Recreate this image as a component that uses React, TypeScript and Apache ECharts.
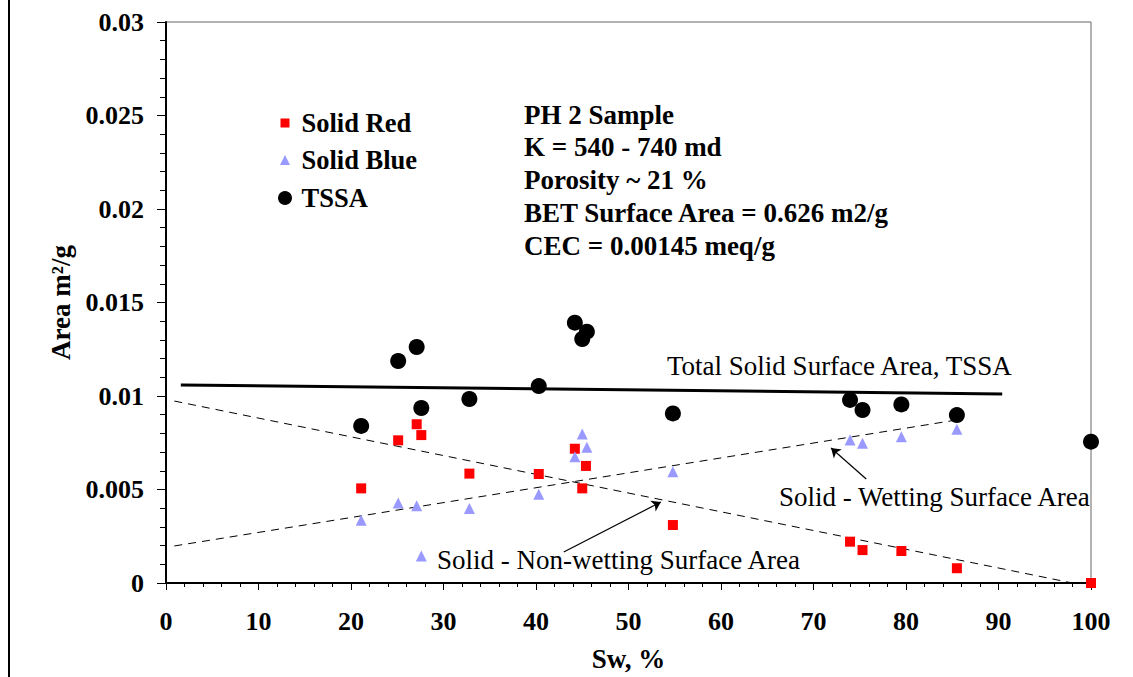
import React, { useEffect, useRef } from "react";
import * as echarts from "echarts";

// Water saturation (%) of each measurement
const swRed = [21.1, 25.1, 27.1, 27.6, 32.8, 40.3, 44.2, 45.0, 45.4, 54.8, 73.95, 75.3, 79.5, 85.5, 100];
const solidRed = [0.00506, 0.00763, 0.00849, 0.00791, 0.00585, 0.00583, 0.00718, 0.00506, 0.00626, 0.0031, 0.00221, 0.00176, 0.00171, 0.00079, 0];

const swBlue = [21.1, 25.1, 27.1, 27.6, 32.8, 40.3, 44.2, 45.0, 45.5, 54.8, 73.95, 75.3, 79.5, 85.5];
const solidBlue = [0.00335, 0.00428, 0.00413, 0.00144, 0.00399, 0.00474, 0.00675, 0.00797, 0.00726, 0.00595, 0.00765, 0.00747, 0.00782, 0.00822];

const swTssa = [21.1, 25.1, 27.1, 27.6, 32.8, 40.3, 44.2, 45.0, 45.5, 54.8, 73.95, 75.3, 79.5, 85.5, 100];
const tssa = [0.0084, 0.01187, 0.01262, 0.00936, 0.00984, 0.01053, 0.01392, 0.01305, 0.01344, 0.00907, 0.00979, 0.00925, 0.00955, 0.00898, 0.00756];

// Fitted trend lines: [Sw, area] end points
const tssaTrend = [[1.6, 0.01059], [90.4, 0.01011]];
const wettingTrend = [[0.9, 0.00198], [85.5, 0.00872]];
const nonWettingTrend = [[0.9, 0.00973], [98, 0]];

// Annotation arrows: [from, to] in Sw / area units
const wettingArrow = [[75.7, 0.00556], [71.9, 0.00722]];
const nonWettingArrow = [[43.0, 0.00166], [53.5, 0.00433]];

const infoLines = [
  "PH 2 Sample",
  "K = 540 - 740 md",
  "Porosity ~ 21 %",
  "BET Surface Area = 0.626 m2/g",
  "CEC = 0.00145 meq/g",
];

const serif = "'Liberation Serif', 'Times New Roman', serif";

const zip = (xs: number[], ys: number[]) => xs.map((x, i) => [x, ys[i]]);

// One legend block per series so each key symbol keeps its own size
const legendItem = (name: string, icon: string, size: number, centerY: number) => ({
  show: true,
  orient: "vertical",
  left: 285 - size / 2,
  top: centerY - 14,
  padding: 0,
  itemWidth: size,
  itemHeight: size,
  selectedMode: false,
  textStyle: {
    fontFamily: serif,
    fontWeight: "bold",
    fontSize: 26.5,
    color: "#000",
    lineHeight: 28,
    padding: [0, 0, 0, 11.5 - size / 2],
  },
  data: [{ name, icon }],
});

export default function App() {
  const ref = useRef<HTMLDivElement>(null);

  useEffect(() => {
    if (!ref.current) return;
    const chart = echarts.init(ref.current, null, { renderer: "svg" });

    const arrowLine = (pts: number[][]) => ({
      silent: true,
      symbol: ["none", "arrow"],
      symbolSize: 9,
      label: { show: false },
      lineStyle: { color: "#000", width: 1.2, type: "solid" },
      data: [[{ coord: pts[0] }, { coord: pts[1] }]],
    });

    chart.setOption({
      animation: false,
      backgroundColor: "#fff",
      textStyle: { fontFamily: serif },
      grid: {
        left: 166,
        right: 42,
        top: 22,
        bottom: 94,
        show: true,
        borderColor: "#666",
        borderWidth: 1,
      },
      xAxis: {
        type: "value",
        min: 0,
        max: 100,
        interval: 10,
        name: "Sw, %",
        nameLocation: "middle",
        nameGap: 62,
        nameTextStyle: { fontFamily: serif, fontWeight: "bold", fontSize: 27, color: "#000" },
        axisLine: { show: true, onZero: false, lineStyle: { color: "#000", width: 2 } },
        axisTick: { show: true, inside: false, length: 7, lineStyle: { color: "#000", width: 1 } },
        minorTick: { show: true, splitNumber: 5, length: 4, lineStyle: { color: "#000", width: 1 } },
        splitLine: { show: false },
        axisLabel: { fontFamily: serif, fontWeight: "bold", fontSize: 26, color: "#000", margin: 25 },
      },
      yAxis: {
        type: "value",
        min: 0,
        max: 0.03,
        interval: 0.005,
        name: "Area m²/g",
        nameLocation: "middle",
        nameGap: 92,
        nameTextStyle: { fontFamily: serif, fontWeight: "bold", fontSize: 27, color: "#000" },
        axisLine: { show: true, onZero: false, lineStyle: { color: "#000", width: 2 } },
        axisTick: { show: true, inside: false, length: 9, lineStyle: { color: "#000", width: 1 } },
        minorTick: { show: true, splitNumber: 5, length: 6, lineStyle: { color: "#000", width: 1 } },
        splitLine: { show: false },
        axisLabel: {
          fontFamily: serif,
          fontWeight: "bold",
          fontSize: 26,
          color: "#000",
          margin: 22,
          formatter: (v: number) => String(parseFloat(v.toFixed(3))),
        },
      },
      legend: [
        legendItem("Solid Red", "rect", 9, 123),
        legendItem("Solid Blue", "triangle", 10, 160),
        legendItem("TSSA", "circle", 14, 198),
      ],
      graphic: [
        {
          type: "line",
          shape: { x1: 9, y1: 0, x2: 9, y2: 677 },
          style: { stroke: "#000", lineWidth: 2 },
        },
        {
          type: "group",
          left: 524,
          top: 101,
          children: infoLines.map((t, i) => ({
            type: "text",
            x: 0,
            y: i * 32.8,
            style: { text: t, font: `bold 27px ${serif}`, fill: "#000" },
          })),
        },
        {
          type: "text",
          left: 667,
          top: 352,
          style: { text: "Total Solid Surface Area, TSSA", font: `27px ${serif}`, fill: "#000" },
        },
        {
          type: "text",
          left: 779,
          top: 483,
          style: { text: "Solid - Wetting Surface Area", font: `27px ${serif}`, fill: "#000" },
        },
        {
          type: "text",
          left: 437,
          top: 546,
          style: { text: "Solid - Non-wetting Surface Area", font: `27px ${serif}`, fill: "#000" },
        },
      ],
      series: [
        {
          name: "TSSA trend",
          type: "line",
          data: tssaTrend,
          symbol: "none",
          silent: true,
          z: 1,
          lineStyle: { color: "#000", width: 3 },
        },
        {
          name: "Wetting trend",
          type: "line",
          data: wettingTrend,
          symbol: "none",
          silent: true,
          z: 1,
          lineStyle: { color: "#000", width: 1, type: [8, 6] },
          markLine: arrowLine(wettingArrow),
        },
        {
          name: "Non-wetting trend",
          type: "line",
          data: nonWettingTrend,
          symbol: "none",
          silent: true,
          z: 1,
          lineStyle: { color: "#000", width: 1, type: [8, 6] },
          markLine: arrowLine(nonWettingArrow),
        },
        {
          name: "Solid Red",
          type: "scatter",
          data: zip(swRed, solidRed),
          symbol: "rect",
          symbolSize: 10,
          itemStyle: { color: "#FF0000", opacity: 1 },
          z: 3,
        },
        {
          name: "Solid Blue",
          type: "scatter",
          data: zip(swBlue, solidBlue),
          symbol: "triangle",
          symbolSize: 11,
          itemStyle: { color: "#9999FF", opacity: 1 },
          z: 3,
        },
        {
          name: "TSSA",
          type: "scatter",
          data: zip(swTssa, tssa),
          symbol: "circle",
          symbolSize: 16,
          itemStyle: { color: "#000", opacity: 1 },
          z: 4,
        },
      ],
    });

    return () => chart.dispose();
  }, []);

  return (
    <div
      ref={ref}
      style={{ position: "absolute", left: 0, top: 0, width: 1133, height: 677, background: "#fff" }}
    />
  );
}
